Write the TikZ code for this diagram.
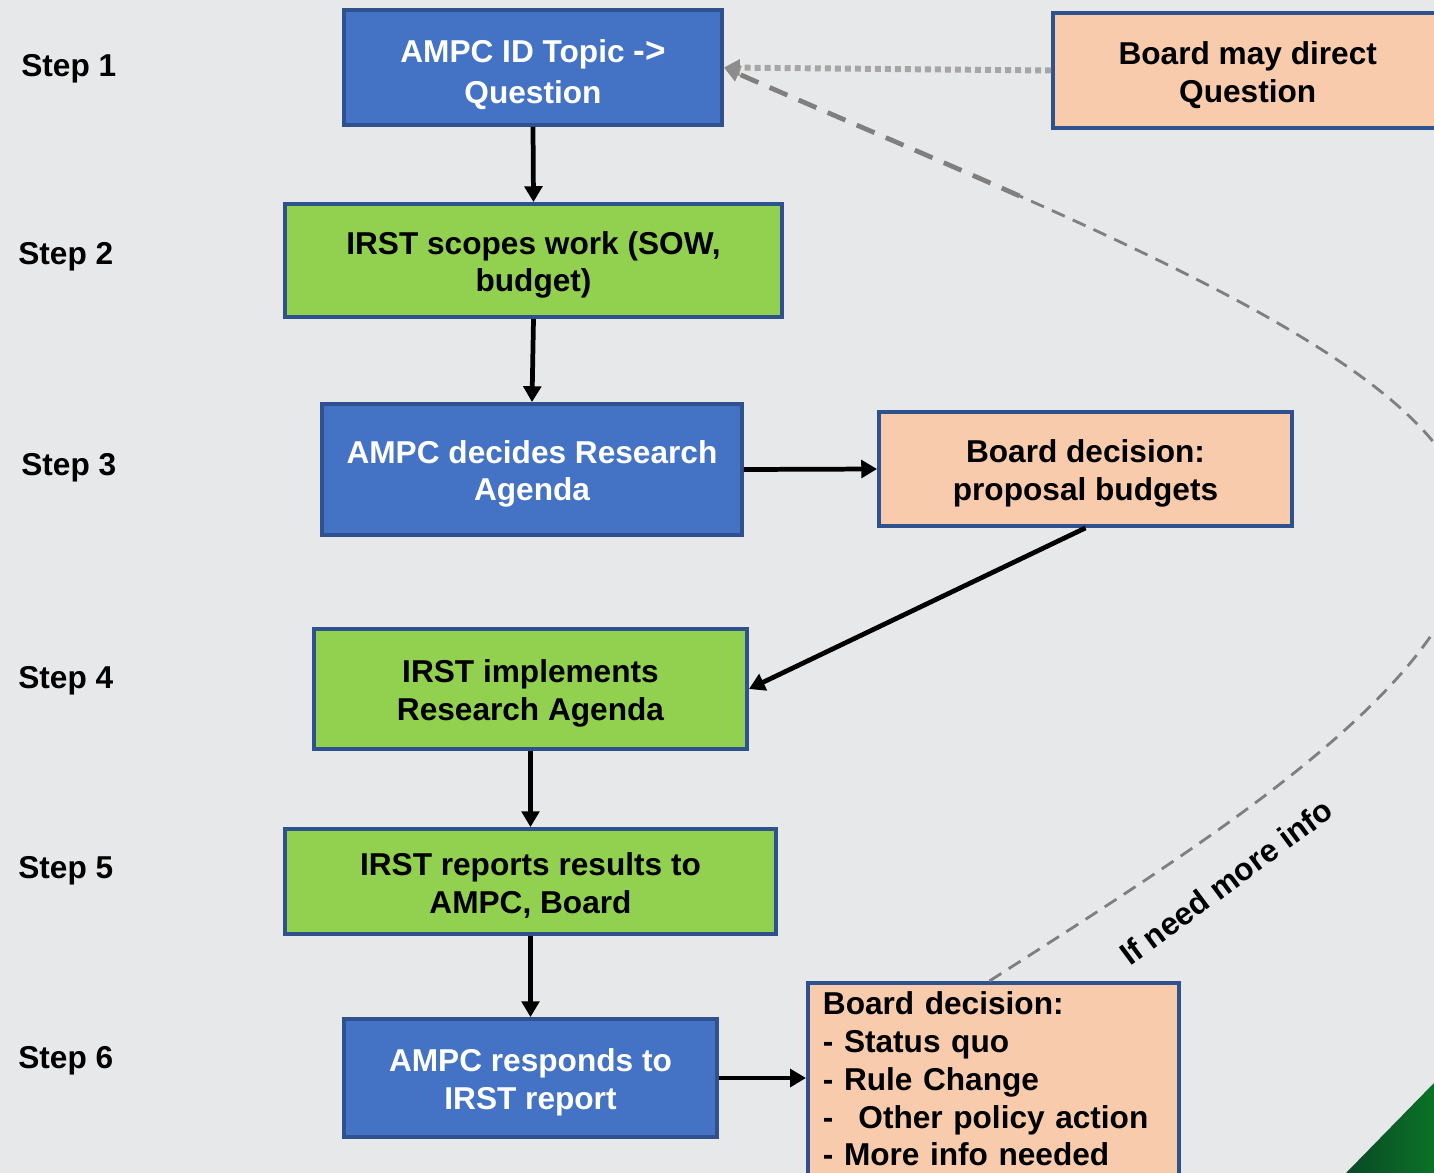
\documentclass[tikz,border=0pt]{standalone}
\usepackage{fontspec}
\setmainfont{Liberation Sans}
\usetikzlibrary{arrows.meta}
\definecolor{bgc}{HTML}{E7E8EA}
\definecolor{bluefill}{HTML}{4472C4}
\definecolor{edgeblue}{HTML}{2F528F}
\definecolor{greenfill}{HTML}{92D050}
\definecolor{peach}{HTML}{F8CBAD}
\definecolor{dotgray}{HTML}{A6A6A6}
\definecolor{tipgray}{HTML}{8C8C8C}
\definecolor{dashgray}{HTML}{7F7F7F}
\definecolor{cornergreen}{HTML}{0C5A2E}
\newcommand\topstrut{\rule{0pt}{18pt}}
\tikzset{
  txt/.style={font=\bfseries\fontsize{18}{21.5}\selectfont},
  box/.style 2 args={txt, draw=edgeblue, line width=2.2pt, align=center,
     minimum width=#1*0.02cm, minimum height=#2*0.02cm, inner sep=0pt},
  bluebox/.style={fill=bluefill, text=white},
  greenbox/.style={fill=greenfill, text=black},
  peachbox/.style={fill=peach, text=black},
  steplabel/.style={txt, anchor=west, inner sep=0pt},
  arr/.style={line width=2.7pt, -{Triangle[length=9pt,width=10pt]}},
  graytip/.style={-{Triangle[length=9pt,width=9pt,fill=tipgray,color=tipgray]}},
}
\begin{document}
\begin{tikzpicture}[x=0.02cm,y=-0.02cm]
\fill[bgc] (0,0) rectangle (1434,1173);
\useasboundingbox (0,0) rectangle (1434,1173);
\clip (0,0) rectangle (1434,1173);
\shade[left color=cornergreen!80!black, right color=cornergreen!85!green]
  (1346,1173) -- (1434,1083) -- (1434,1173) -- cycle;

% step labels
\node[steplabel] (s1) at (21,69) {Step 1};
\node[steplabel] (s2) at (18,257) {Step 2};
\node[steplabel] (s3) at (21,468) {Step 3};
\node[steplabel] (s4) at (18,681) {Step 4};
\node[steplabel] (s5) at (18,871) {Step 5};
\node[steplabel] (s6) at (18,1061) {Step 6};

% boxes
\node[box={378}{115}, bluebox] (b1) at (533,67.5) {\rule{0pt}{21pt}AMPC ID Topic {\fontsize{20}{21.5}\selectfont->}\\[1.5pt]Question};
\node[box={400}{115}, peachbox] (b2) at (1253,70.5) {\topstrut\hspace*{-6pt}Board may direct\\\hspace*{-6pt}Question};
\node[box={497}{113}, greenbox] (b3) at (533.5,260.5) {\topstrut IRST scopes work (SOW,\\budget)};
\node[box={420}{131}, bluebox] (b4) at (532,469.5) {\topstrut AMPC decides Research\\Agenda};
\node[box={413}{114}, peachbox] (b5) at (1085.5,469) {\topstrut Board decision:\\proposal budgets};
\node[box={433}{120}, greenbox] (b6) at (530.5,689) {\topstrut IRST implements\\Research Agenda};
\node[box={491}{105}, greenbox] (b7) at (530.5,881.5) {\topstrut IRST reports results to\\AMPC, Board};
\node[box={373}{118}, bluebox] (b8) at (530.5,1078) {\topstrut AMPC responds to\\IRST report};
\node[txt, draw=edgeblue, line width=2.2pt, fill=peach, anchor=north west,
      align=left, text width=341*0.02cm, inner xsep=15*0.02cm, inner ysep=9*0.02cm]
  (b9) at (806,981) {Board decision:\\- Status quo\\- Rule Change\\-\hspace{0.79em}Other policy action\\- More info needed\strut};

% connectors
\draw[arr] (b1.south) -- (b3.north);
\draw[arr] (b3.south) -- (b4.north);
\draw[arr] (b4.east) -- (b5.west);
\draw[arr] (b5.south) -- (b6.east);
\draw[arr] (b6.south) -- (b7.north);
\draw[arr] (b7.south) -- (b8.north);
\draw[arr] (b8.east) -- (b8.east -| b9.west);

% feedback loop
\coordinate (loopstart) at ([xshift=-4*0.02cm]b9.north);
\coordinate (loopmid) at (1019.4,195.9);
\draw[dashgray, line width=1.6pt, dash pattern=on 8pt off 5pt]
  (loopstart) .. controls (1200,846) and (1470,680) .. (1470,530)
  .. controls (1470,417.5) and (1290,316.25) .. (loopmid);
\draw[dashgray, line width=2.7pt, dash pattern=on 11pt off 7pt, graytip]
  (loopmid) .. controls (929.25,155.75) and (829,113.5) .. (b1.east);
\draw[dotgray, line width=3.4pt, dash pattern=on 3.4pt off 2.3pt, graytip]
  (b2.west) -- (b1.east);
\node[txt, rotate=36.5] (lbl) at (1226,882) {If need more info};
\end{tikzpicture}
\end{document}
